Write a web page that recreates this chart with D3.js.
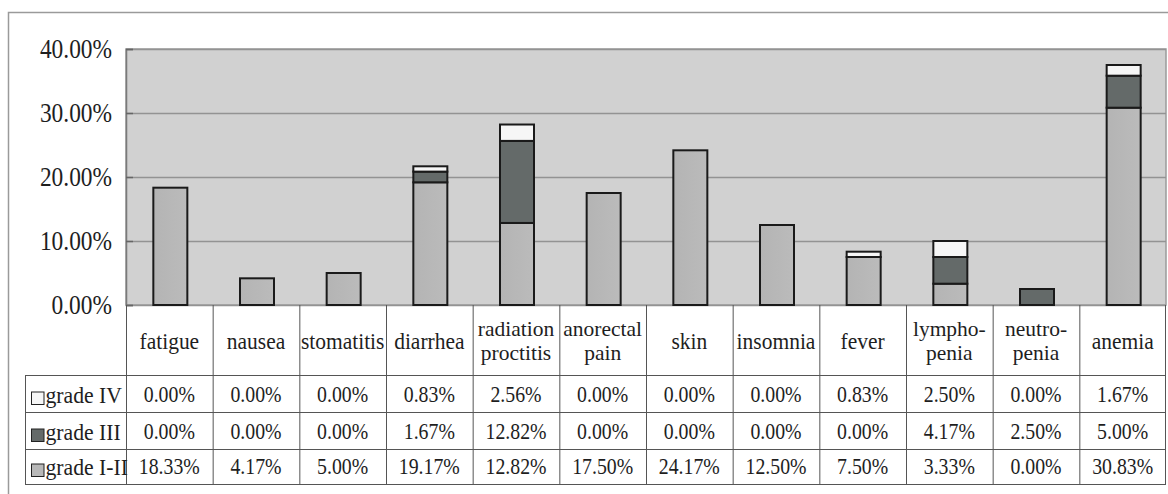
<!DOCTYPE html>
<html>
<head>
<meta charset="utf-8">
<script src="https://cdn.jsdelivr.net/npm/d3@7"></script>
<style>
  html, body { margin: 0; padding: 0; background: #fff; }
  svg { display: block; }
</style>
</head>
<body>
<svg id="chart" width="1168" height="494"></svg>
<script>
// Adverse events by category, percentage of patients per grade
const categories = ["fatigue", "nausea", "stomatitis", "diarrhea", "radiation\nproctitis",
  "anorectal\npain", "skin", "insomnia", "fever", "lympho-\npenia", "neutro-\npenia", "anemia"];
const gradeI_II = [18.33, 4.17, 5.00, 19.17, 12.82, 17.50, 24.17, 12.50, 7.50, 3.33, 0.00, 30.83];
const gradeIII  = [0.00, 0.00, 0.00, 1.67, 12.82, 0.00, 0.00, 0.00, 0.00, 4.17, 2.50, 5.00];
const gradeIV   = [0.00, 0.00, 0.00, 0.83, 2.56, 0.00, 0.00, 0.00, 0.83, 2.50, 0.00, 1.67];
const seriesNames = ["grade I-II", "grade III", "grade IV"];
const seriesColors = ["#b8b8b8", "#646a69", "#f6f6f6"];
const yTicks = [0, 10, 20, 30, 40];

const FONT = "'Liberation Serif', 'Times New Roman', serif";
const INK = "#1e1e1e";

const svg = d3.select("#chart");
const W = 1168, H = 494;

// layout
const plot = { left: 126, right: 1166, top: 49, bottom: 305 };
const tableRows = [375, 412, 449, 484]; // horizontal rules below the category row
const legendLeft = 25;

// text helper: serif label with slightly tall glyphs
function label(parent, str, x, y, size, sy, anchor) {
  return parent.append("text")
    .attr("transform", `translate(${x},${y}) scale(1,${sy})`)
    .attr("text-anchor", anchor || "middle")
    .style("font-family", FONT)
    .style("font-size", size + "px")
    .style("fill", INK)
    .text(str);
}

// outer frame (top and left edges)
svg.append("path")
  .attr("d", `M8.5,${H} L8.5,12.5 L${W},12.5`)
  .attr("fill", "none").attr("stroke", "#9a9a9a").attr("stroke-width", 1.5);

const x = d3.scaleBand().domain(d3.range(categories.length)).range([plot.left, plot.right]);
const y = d3.scaleLinear().domain([0, 40]).range([plot.bottom, plot.top]);

// plot background
svg.append("rect")
  .attr("x", plot.left).attr("y", plot.top)
  .attr("width", plot.right - plot.left).attr("height", plot.bottom - plot.top)
  .attr("fill", "#d1d1d1").attr("stroke", "#9a9a9a").attr("stroke-width", 1.5);

// horizontal gridlines
const grid = svg.append("g").attr("transform", `translate(${plot.left},0)`)
  .call(d3.axisLeft(y).tickValues(yTicks).tickSize(-(plot.right - plot.left)).tickFormat(""));
grid.select(".domain").remove();
grid.selectAll("line").attr("stroke", "#939393").attr("stroke-width", 1.5);

// y axis with short inward ticks and labels
const yAxis = svg.append("g").attr("transform", `translate(${plot.left},0)`)
  .call(d3.axisLeft(y).tickValues(yTicks).tickSize(-7).tickPadding(14)
    .tickFormat(d => d.toFixed(2) + "%"));
yAxis.select(".domain").attr("stroke", "#7a7a7a").attr("stroke-width", 1.5);
yAxis.selectAll("line").attr("stroke", "#666").attr("stroke-width", 1.5);
yAxis.selectAll("text")
  .attr("transform", "scale(1,1.16)")
  .attr("dy", "0.3em")
  .style("font-family", FONT)
  .style("font-size", "23.4px")
  .style("fill", INK);

// subtle shading on the light bar segments
const defs = svg.append("defs");
const grad = defs.append("linearGradient").attr("id", "barShade").attr("x1", 0).attr("x2", 1);
grad.append("stop").attr("offset", 0).attr("stop-color", "#b4b4b4");
grad.append("stop").attr("offset", 1).attr("stop-color", "#bbbbbb");

// stacked bars
const rows = categories.map((c, i) => ({
  "grade I-II": gradeI_II[i], "grade III": gradeIII[i], "grade IV": gradeIV[i], idx: i
}));
const stacked = d3.stack().keys(seriesNames)(rows);
const barW = 34;
const barOffset = 1;

stacked.forEach((layer, li) => {
  svg.append("g").selectAll("rect")
    .data(layer.filter(d => d[1] - d[0] > 0))
    .join("rect")
    .attr("x", d => x(d.data.idx) + x.bandwidth() / 2 - barW / 2 + barOffset)
    .attr("y", d => y(d[1]))
    .attr("width", barW)
    .attr("height", d => y(d[0]) - y(d[1]))
    .attr("fill", li === 0 ? "url(#barShade)" : seriesColors[li])
    .attr("stroke", "#1a1a1a").attr("stroke-width", 2);
});

// data table
const table = svg.append("g");
const lineColor = "#555";

// vertical rules between categories
x.domain().concat([categories.length]).forEach(i => {
  const xx = i < categories.length ? x(i) + 0.5 : plot.right - 0.5;
  table.append("line")
    .attr("x1", xx).attr("x2", xx)
    .attr("y1", plot.bottom).attr("y2", tableRows[tableRows.length - 1])
    .attr("stroke", lineColor).attr("stroke-width", 1);
});

// horizontal rules and legend column edge
tableRows.forEach(ry => {
  table.append("line")
    .attr("x1", legendLeft).attr("x2", plot.right)
    .attr("y1", ry + 0.5).attr("y2", ry + 0.5)
    .attr("stroke", lineColor).attr("stroke-width", 1);
});
table.append("line")
  .attr("x1", legendLeft + 0.5).attr("x2", legendLeft + 0.5)
  .attr("y1", tableRows[0]).attr("y2", tableRows[tableRows.length - 1])
  .attr("stroke", lineColor).attr("stroke-width", 1);

// category labels (one or two lines)
categories.forEach((c, i) => {
  const cx = x(i) + x.bandwidth() / 2;
  const lines = c.split("\n");
  if (lines.length === 1) {
    label(table, lines[0], cx, 349, 21.5, 1.06);
  } else {
    label(table, lines[0], cx, 335.5, 21.5, 1.0);
    label(table, lines[1], cx, 359.5, 21.5, 1.0);
  }
});

// value rows: grade IV on top, then III, then I-II
const tableOrder = [
  { name: "grade IV", values: gradeIV, color: seriesColors[2] },
  { name: "grade III", values: gradeIII, color: seriesColors[1] },
  { name: "grade I-II", values: gradeI_II, color: seriesColors[0] }
];
tableOrder.forEach((s, r) => {
  const base = tableRows[r + 1] - 10;
  table.append("rect")
    .attr("x", 31.5).attr("y", base - 10)
    .attr("width", 12.5).attr("height", 12.5)
    .attr("fill", s.color).attr("stroke", "#222").attr("stroke-width", 1);
  label(table, s.name, 45.5, base + 1, 21.7, 1.05, "start");
  s.values.forEach((v, i) => {
    label(table, v.toFixed(2) + "%", x(i) + x.bandwidth() / 2, base, 19.8, 1.14);
  });
});
</script>
</body>
</html>
